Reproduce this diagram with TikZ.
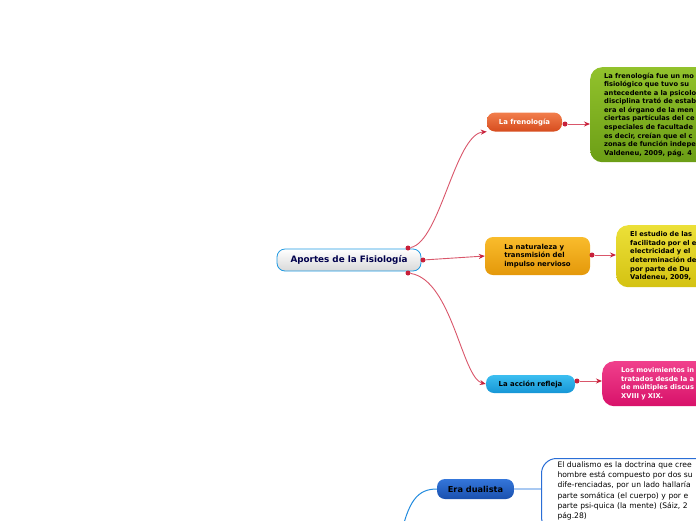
\documentclass[tikz,border=0pt]{standalone}
\usepackage{fontspec}
\setmainfont{DejaVu Sans}
\usepackage{tikz}
\usetikzlibrary{arrows.meta}

\definecolor{rojo}{HTML}{C8203A}
\definecolor{enlace}{HTML}{D9566A}
\definecolor{azulclaro}{HTML}{A9C9F2}
\definecolor{azul}{HTML}{2A6ED6}

\begin{document}
\begin{tikzpicture}[x=1pt,y=-1pt,
  every node/.style={font=\fontsize{6.9}{8.4}\selectfont\bfseries, inner sep=0pt},
  central/.style={rectangle, rounded corners=8pt, draw=azul!70!cyan, line width=0.8pt,
    top color=white, bottom color=gray!30, text=blue!30!black,
    font=\fontsize{8.8}{10}\selectfont\bfseries, minimum width=144pt, minimum height=22pt},
  rama/.style={rectangle, rounded corners=8pt, align=left, minimum height=19pt},
  hoja/.style={rectangle, rounded corners=12pt, align=left, anchor=north west,
    inner xsep=14pt, text width=140pt, font=\fontsize{6.7}{8.55}\selectfont\bfseries},
  punto/.style={circle, fill=rojo, minimum size=5pt},
  enlace/.style={draw=enlace, line width=0.9pt, -{Stealth[length=6pt,width=5pt,color=rojo]}}]
\clip (0,0) rectangle (696,520);
\useasboundingbox (0,0) rectangle (696,520);

\node[central] (aportes) at (349,260) {Aportes de la Fisiología};
\node[punto] (p1) at (408,248) {};
\node[punto] (p2) at (423,260) {};
\node[punto] (p3) at (408,273) {};

\node[rama, top color={rgb,255:red,242;green,126;blue,76}, bottom color={rgb,255:red,214;green,76;blue,30},
  text=white, minimum width=75pt] (frenologia) at (524.5,122) {La frenología};
\node[rama, top color={rgb,255:red,249;green,188;blue,44}, bottom color={rgb,255:red,228;green,152;blue,10},
  minimum width=105pt, minimum height=38pt] (naturaleza) at (537.5,256)
  {La naturaleza y\\transmisión del\\impulso nervioso};
\node[rama, top color={rgb,255:red,60;green,190;blue,240}, bottom color={rgb,255:red,22;green,150;blue,214},
  minimum width=89pt, minimum height=18pt] (refleja) at (530.5,384) {La acción refleja};
\node[rama, top color={rgb,255:red,52;green,118;blue,218}, bottom color={rgb,255:red,26;green,80;blue,174},
  minimum width=77pt, minimum height=20pt, font=\fontsize{8.2}{9}\selectfont\bfseries]
  (dualista) at (475.5,489) {Era dualista};

\node[punto] (p4) at (565,124) {};
\node[punto] (p5) at (592,255) {};
\node[punto] (p6) at (577,381) {};

\node[hoja, top color={rgb,255:red,146;green,194;blue,44}, bottom color={rgb,255:red,108;green,158;blue,22},
  minimum height=95pt] (frenologia-texto) at (590,67)
  {La frenología fue un mo\\fisiológico que tuvo su\\antecedente a la psicolo\\disciplina trató de estab\\era el órgano de la men\\ciertas partículas del ce\\especiales de facultade\\es decir, creían que el c\\zonas de función indepe\\Valdeneu, 2009, pág. 4};
\node[hoja, top color={rgb,255:red,236;green,224;blue,56}, bottom color={rgb,255:red,212;green,194;blue,18},
  minimum height=62pt] (naturaleza-texto) at (616,225)
  {El estudio de las\\facilitado por el e\\electricidad y el\\determinación de\\por parte de Du\\Valdeneu, 2009,};
\node[hoja, top color={rgb,255:red,240;green,64;blue,140}, bottom color={rgb,255:red,216;green,18;blue,106},
  text=white, inner xsep=19pt, minimum height=45pt] (refleja-texto) at (602,361)
  {Los movimientos in\\tratados desde la a\\de múltiples discus\\XVIII y XIX.};
\node[hoja, draw=azul, line width=1pt, fill=white, rounded corners=15pt, inner xsep=16pt,
  inner ysep=3pt, text width=170pt, font=\fontsize{7.6}{10.3}\selectfont]
  (dualista-texto) at (541,458)
  {El dualismo es la doctrina que cree\\hombre está compuesto por dos su\\dife-renciadas, por un lado hallaría\\parte somática (el cuerpo) y por e\\parte psi-quica (la mente) (Sáiz, 2\\pág.28)\\\mbox{}};

\draw[enlace] (p1) .. controls (440,242) and (455,134) .. (frenologia.south west);
\draw[enlace] (p2) -- (naturaleza.west);
\draw[enlace] (p3) .. controls (452,280) and (462,378) .. (refleja.west);
\draw[enlace] (p4) -- (frenologia-texto.west |- p4);
\draw[enlace] (p5) -- (naturaleza-texto.west |- p5);
\draw[enlace] (p6) -- (refleja-texto.west |- p6);

\coordinate (origen) at (400,540);
\draw[azul!80!cyan, line width=1pt] (origen) .. controls (408,500) and (418,489) .. (dualista.west);
\draw[azulclaro, line width=1.5pt] (dualista.east) -- (dualista-texto.west |- dualista.east);
\end{tikzpicture}
\end{document}
